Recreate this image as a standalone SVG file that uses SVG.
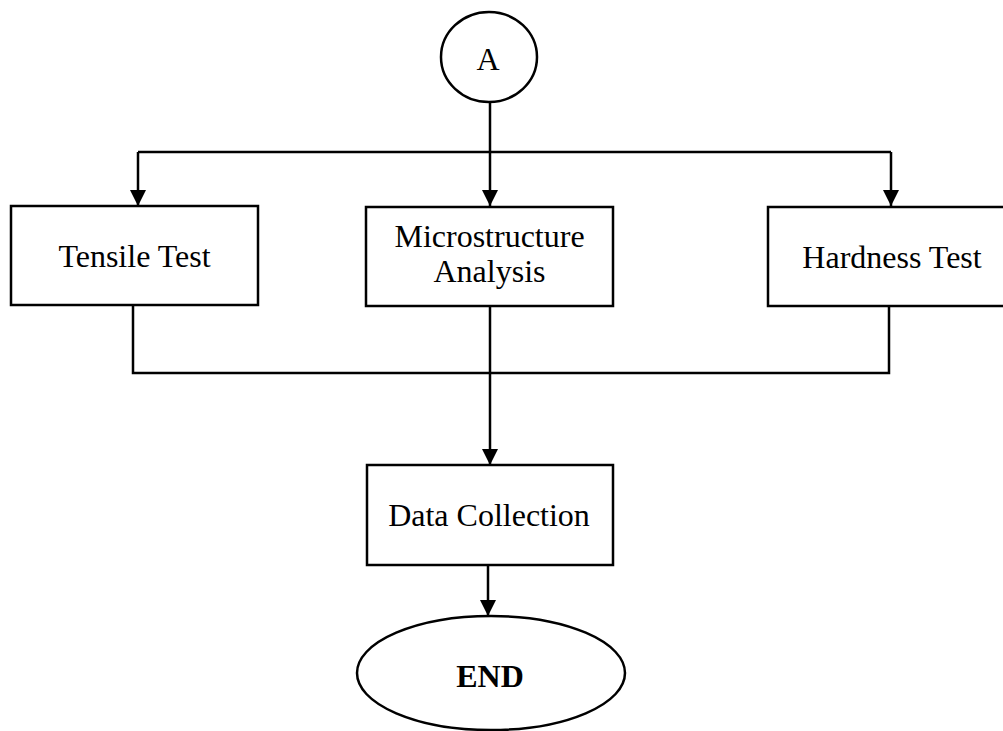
<svg xmlns="http://www.w3.org/2000/svg" width="1003" height="731" viewBox="0 0 1003 731">
  <style>
    .shape { fill: #fff; stroke: #000; stroke-width: 2.5; }
    .wire { fill: none; stroke: #000; stroke-width: 2.5; }
    .label { font-family: "Liberation Serif", "Times New Roman", serif; font-size: 32px; fill: #000; text-anchor: middle; }
    .bold { font-weight: bold; }
  </style>
  <defs>
    <marker id="arrow" markerUnits="userSpaceOnUse" markerWidth="16" markerHeight="16" refX="16" refY="8" orient="auto">
      <path d="M0,0 L16,8 L0,16 Z" fill="#000"/>
    </marker>
  </defs>

  <g id="connectors">
    <path class="wire" d="M490,102 V206" marker-end="url(#arrow)"/>
    <path class="wire" d="M138,152 H891"/>
    <path class="wire" d="M138,152 V206" marker-end="url(#arrow)"/>
    <path class="wire" d="M891,152 V206" marker-end="url(#arrow)"/>
    <path class="wire" d="M133,306 V373 H889 V307"/>
    <path class="wire" d="M490,307 V465" marker-end="url(#arrow)"/>
    <path class="wire" d="M488,566 V616" marker-end="url(#arrow)"/>
  </g>

  <g id="node-a">
    <ellipse class="shape" cx="489" cy="57" rx="48" ry="45"/>
    <text class="label" x="488" y="70">A</text>
  </g>

  <g id="node-tensile">
    <rect class="shape" x="11" y="206" width="247" height="99"/>
    <text class="label" x="134.5" y="267">Tensile Test</text>
  </g>

  <g id="node-microstructure">
    <rect class="shape" x="366" y="207" width="247" height="99"/>
    <text class="label" x="489.5" y="247">Microstructure</text>
    <text class="label" x="489.5" y="282">Analysis</text>
  </g>

  <g id="node-hardness">
    <rect class="shape" x="768" y="207" width="248" height="99"/>
    <text class="label" x="892" y="268">Hardness Test</text>
  </g>

  <g id="node-data">
    <rect class="shape" x="367" y="465" width="246" height="100"/>
    <text class="label" x="489" y="526">Data Collection</text>
  </g>

  <g id="node-end">
    <ellipse class="shape" cx="491" cy="673" rx="134" ry="57"/>
    <text class="label bold" x="490" y="687">END</text>
  </g>
</svg>
